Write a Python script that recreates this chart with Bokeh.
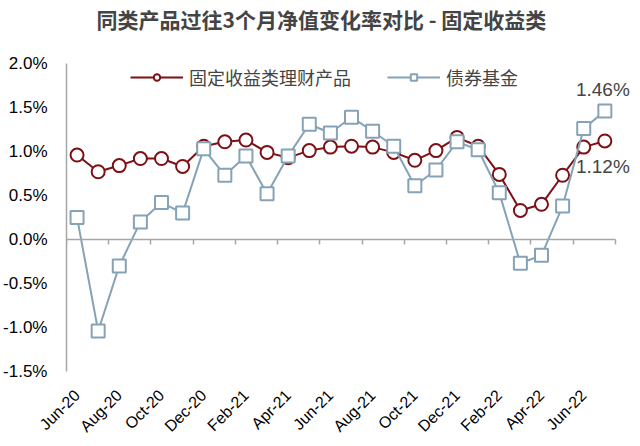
from bokeh.plotting import figure
from bokeh.models import (LinearAxis, FixedTicker, PrintfTickFormatter, Legend, LegendItem,
                          Label, Range1d, ColumnDataSource, Title)
from bokeh.embed import file_html
from bokeh.resources import INLINE
import math

months = ["Jun-20", "Jul-20", "Aug-20", "Sep-20", "Oct-20", "Nov-20", "Dec-20",
          "Jan-21", "Feb-21", "Mar-21", "Apr-21", "May-21", "Jun-21", "Jul-21",
          "Aug-21", "Sep-21", "Oct-21", "Nov-21", "Dec-21", "Jan-22", "Feb-22",
          "Mar-22", "Apr-22", "May-22", "Jun-22", "Jul-22"]
wealth = [0.96, 0.77, 0.84, 0.92, 0.92, 0.83, 1.06, 1.11, 1.13, 0.99, 0.93, 1.01, 1.05,
          1.06, 1.05, 0.99, 0.90, 1.01, 1.16, 1.06, 0.74, 0.33, 0.40, 0.73, 1.05, 1.12]
fund = [0.25, -1.04, -0.30, 0.20, 0.42, 0.30, 1.03, 0.73, 0.95, 0.52, 0.95, 1.31, 1.21,
        1.39, 1.23, 1.06, 0.61, 0.79, 1.11, 1.02, 0.53, -0.27, -0.18, 0.38, 1.26, 1.46]
y_ticks = [-1.5, -1.0, -0.5, 0.0, 0.5, 1.0, 1.5, 2.0]
name_wealth = "固定收益类理财产品"
name_fund = "债券基金"
title_text = "同类产品过往3个月净值变化率对比 - 固定收益类"

RED = "#7d1014"
BLUE = "#86a2b6"
AXIS = "#a6a6a6"
CJK = "Noto Sans CJK SC"
LAT = "Liberation Sans"

n = len(months)
x = list(range(n))
src = ColumnDataSource(dict(x=x, wealth=wealth, fund=fund))

p = figure(frame_width=570, frame_height=308, output_backend="svg", toolbar_location=None,
           x_range=Range1d(-0.5, n + 0.5), y_range=Range1d(y_ticks[0], y_ticks[-1]),
           x_axis_location=None, y_axis_location=None, title=None,
           min_border_left=61, min_border_right=0, min_border_top=0, min_border_bottom=0)
p.outline_line_color = None
p.xgrid.visible = False
p.ygrid.visible = False

# y axis
yax = LinearAxis(ticker=FixedTicker(ticks=y_ticks), formatter=PrintfTickFormatter(format="%.1f%%"))
yax.axis_line_color = AXIS
yax.axis_line_width = 1.5
yax.major_tick_line_color = None
yax.minor_tick_line_color = None
yax.major_label_text_font = LAT
yax.major_label_text_font_size = "17px"
yax.major_label_text_color = "#000000"
yax.major_label_standoff = 13
p.add_layout(yax, "left")

# zero-line axis with boundary ticks (ticks point down)
zax = LinearAxis(ticker=FixedTicker(ticks=[i - 0.5 for i in range(0, n + 1, 2)]),
                 fixed_location=0, bounds=(-0.5, n - 0.5))
zax.axis_line_color = AXIS
zax.axis_line_width = 1.5
zax.major_tick_line_color = AXIS
zax.major_tick_line_width = 1.5
zax.major_tick_in = 5
zax.major_tick_out = 0
zax.minor_tick_line_color = None
zax.major_label_text_font_size = "1px"
zax.major_label_text_alpha = 0
zax.major_label_standoff = 0
p.add_layout(zax, "above")

# spacer between the title and the plot area
spacer = Title(text=" ", text_font_size="1px", standoff=25)
p.add_layout(spacer, "above")

title = Title(text=title_text, text_font=CJK, text_font_size="21px", text_font_style="bold",
              align="left", offset=30, standoff=3)
p.add_layout(title, "above")

# month label axis at the bottom
lax = LinearAxis(ticker=FixedTicker(ticks=x[::2]),
                 major_label_overrides={i: months[i] for i in x[::2]})
lax.axis_line_color = None
lax.major_tick_line_color = None
lax.minor_tick_line_color = None
lax.major_label_orientation = math.pi / 4
lax.major_label_text_font = LAT
lax.major_label_text_font_size = "16px"
lax.major_label_text_color = "#000000"
lax.major_label_standoff = 15
p.add_layout(lax, "below")

lw = p.line("x", "wealth", source=src, line_color=RED, line_width=2)
sw = p.scatter("x", "wealth", source=src, marker="circle", size=13, fill_color="white",
               line_color=RED, line_width=2)
lf = p.line("x", "fund", source=src, line_color=BLUE, line_width=2)
sf = p.scatter("x", "fund", source=src, marker="square", size=13, fill_color="white",
               line_color=BLUE, line_width=2)

legend = Legend(items=[LegendItem(label=name_wealth, renderers=[lw, sw]),
                       LegendItem(label=name_fund, renderers=[lf, sf])],
                orientation="horizontal", location=(64, 281))
legend.border_line_color = None
legend.background_fill_alpha = 0
legend.label_text_font = CJK
legend.label_text_font_size = "18px"
legend.glyph_width = 53
legend.glyph_height = 16
legend.spacing = 36
legend.padding = 0
legend.margin = 0
legend.label_standoff = 6
p.add_layout(legend, "center")

last = n - 1
p.add_layout(Label(x=x[last], y=fund[last], text=f"{fund[last]:.2f}%", text_font=LAT,
                   text_font_size="19px", text_align="center", text_baseline="middle",
                   x_offset=-2, y_offset=22))
p.add_layout(Label(x=x[last], y=wealth[last], text=f"{wealth[last]:.2f}%", text_font=LAT,
                   text_font_size="19px", text_align="center", text_baseline="middle",
                   x_offset=-2, y_offset=-26))

open("out.html", "w").write(file_html(p, INLINE))
